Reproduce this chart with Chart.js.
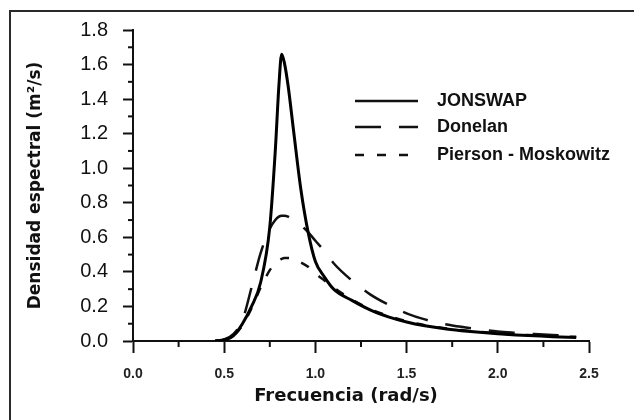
<!DOCTYPE html>
<html>
<head>
<meta charset="utf-8">
<script src="https://cdn.jsdelivr.net/npm/chart.js@4"></script>
<style>
    html, body { margin: 0; padding: 0; background: #fff; overflow: hidden; }
    #wrap { position: relative; width: 634px; height: 420px; }
    #marco { position: absolute; left: 9px; top: 10px; width: 700px; height: 500px; border: 2px solid #2a2a2a; }
    #grafico { position: absolute; left: 0; top: 0; }
</style>
</head>
<body>
<div id="wrap">
    <div id="marco"></div>
    <canvas id="grafico" width="634" height="420"></canvas>
</div>
<script>
// Datos (frecuencia en rad/s, densidad en m²/s)
const frecuencias = [0.45, 0.5, 0.55, 0.6, 0.65, 0.7, 0.75, 0.78, 0.8, 0.815, 0.83, 0.85, 0.88, 0.92, 0.96,
    1.0, 1.05, 1.1, 1.2, 1.3, 1.4, 1.5, 1.6, 1.7, 1.8, 1.9, 2.0, 2.1, 2.2, 2.3, 2.43];
const jonswap = [0, 0.005, 0.03, 0.10, 0.20, 0.34, 0.66, 1.10, 1.48, 1.66, 1.61, 1.48, 1.22, 0.88, 0.63,
    0.46, 0.37, 0.30, 0.235, 0.18, 0.14, 0.11, 0.088, 0.072, 0.06, 0.05, 0.042, 0.035, 0.03, 0.025, 0.02];
const donelan = [0, 0.01, 0.04, 0.12, 0.31, 0.51, 0.65, 0.70, 0.72, 0.725, 0.725, 0.72, 0.70, 0.67, 0.63,
    0.58, 0.52, 0.45, 0.35, 0.27, 0.21, 0.16, 0.125, 0.10, 0.082, 0.068, 0.055, 0.047, 0.04, 0.035, 0.03];
const piersonMoskowitz = [0, 0.005, 0.03, 0.09, 0.19, 0.31, 0.41, 0.45, 0.465, 0.475, 0.48, 0.48, 0.475, 0.455, 0.43,
    0.39, 0.35, 0.31, 0.24, 0.185, 0.145, 0.115, 0.092, 0.076, 0.063, 0.053, 0.045, 0.038, 0.033, 0.028, 0.024];

const nombres = ['JONSWAP', 'Donelan', 'Pierson - Moskowitz'];
const xTicks = [0, 0.5, 1.0, 1.5, 2.0, 2.5];
const yTicks = [0, 0.2, 0.4, 0.6, 0.8, 1.0, 1.2, 1.4, 1.6, 1.8];

function puntos(vals) {
    return frecuencias.map((f, i) => ({ x: f, y: vals[i] }));
}

// ticks menores + título del eje x + leyenda
const extras = {
    id: 'extras',
    afterDraw(chart) {
        const ctx = chart.ctx;
        const xs = chart.scales.x, ys = chart.scales.y;
        const area = chart.chartArea;
        ctx.save();
        ctx.strokeStyle = '#111';
        ctx.lineWidth = 2;
        for (let v = 0.25; v < 2.5; v += 0.5) {
            const px = xs.getPixelForValue(v);
            ctx.beginPath(); ctx.moveTo(px, area.bottom); ctx.lineTo(px, area.bottom + 6); ctx.stroke();
        }
        for (let v = 0.1; v < 1.8; v += 0.2) {
            const py = ys.getPixelForValue(v);
            ctx.beginPath(); ctx.moveTo(area.left - 5, py); ctx.lineTo(area.left, py); ctx.stroke();
        }

        ctx.fillStyle = '#111';
        ctx.font = 'bold 18px "DejaVu Sans"';
        ctx.textAlign = 'center';
        ctx.textBaseline = 'middle';
        ctx.fillText('Frecuencia (rad/s)', 346, 396);

        // leyenda
        const ys0 = [101, 127, 155];
        ctx.font = 'bold 18px "Liberation Sans"';
        ctx.textAlign = 'left';
        chart.data.datasets.forEach((ds, i) => {
            ctx.beginPath();
            ctx.setLineDash(ds.borderDash || []);
            ctx.lineWidth = 2.5;
            ctx.strokeStyle = '#111';
            ctx.moveTo(355, ys0[i]); ctx.lineTo(418, ys0[i]);
            ctx.stroke();
            ctx.setLineDash([]);
            ctx.fillText(ds.label, 437, ys0[i]);
        });
        ctx.restore();
    }
};

new Chart(document.getElementById('grafico').getContext('2d'), {
    type: 'line',
    data: {
        datasets: [
            { label: nombres[0], data: puntos(jonswap), borderColor: '#000', borderWidth: 3, pointRadius: 0, cubicInterpolationMode: 'monotone' },
            { label: nombres[1], data: puntos(donelan), borderColor: '#111', borderWidth: 2.5, borderDash: [26, 18], pointRadius: 0, cubicInterpolationMode: 'monotone' },
            { label: nombres[2], data: puntos(piersonMoskowitz), borderColor: '#111', borderWidth: 2.5, borderDash: [9, 13], pointRadius: 0, cubicInterpolationMode: 'monotone' }
        ]
    },
    options: {
        responsive: false,
        animation: false,
        layout: { padding: { left: 0, top: 30, right: 45, bottom: 0 } },
        plugins: { legend: { display: false }, tooltip: { enabled: false } },
        scales: {
            x: {
                type: 'linear', min: 0, max: 2.5,
                afterBuildTicks: s => { s.ticks = xTicks.map(v => ({ value: v })); },
                afterFit: s => { s.height = 79; },
                border: { color: '#111', width: 2 },
                grid: { drawOnChartArea: false, tickLength: 12, tickColor: '#111', tickWidth: 2 },
                ticks: { color: '#222', padding: 13, font: { family: 'Liberation Sans', size: 14, weight: 'bold' },
                    callback: v => v.toFixed(1) }
            },
            y: {
                min: 0, max: 1.8,
                afterBuildTicks: s => { s.ticks = yTicks.map(v => ({ value: v })); },
                afterFit: s => { s.width = 133; },
                border: { color: '#111', width: 2 },
                grid: { drawOnChartArea: false, tickLength: 10, tickColor: '#111', tickWidth: 2 },
                ticks: { color: '#111', padding: 15, font: { family: 'Liberation Sans', size: 20 },
                    callback: v => v.toFixed(1) },
                title: { display: true, text: 'Densidad espectral (m²/s)', color: '#111',
                    font: { family: 'DejaVu Sans', size: 17, weight: 'bold' }, padding: { top: 25 } }
            }
        }
    },
    plugins: [extras]
});
</script>
</body>
</html>
